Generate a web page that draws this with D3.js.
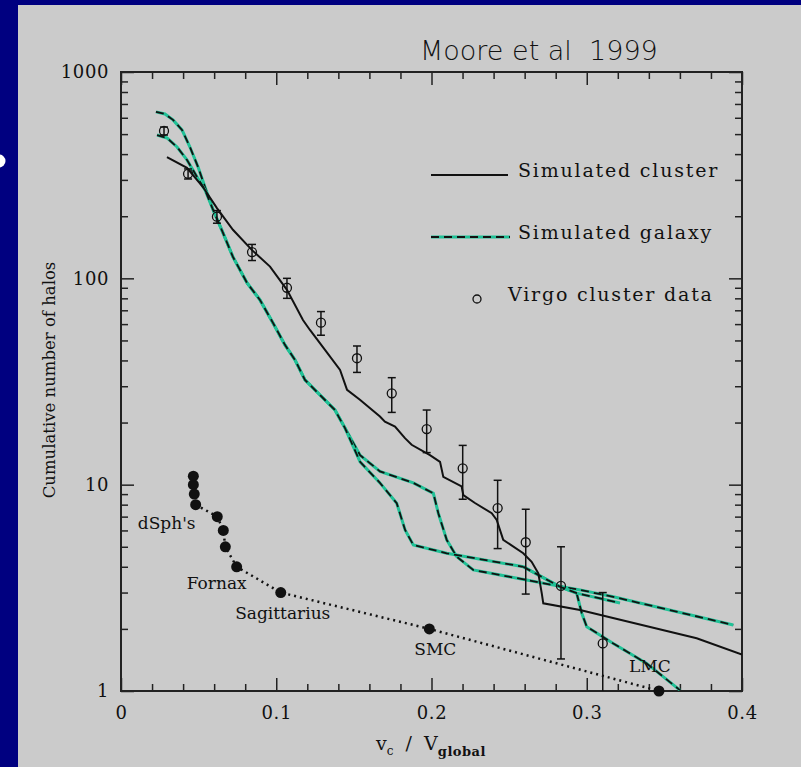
<!DOCTYPE html>
<html>
<head>
<meta charset="utf-8">
<script src="https://cdn.jsdelivr.net/npm/d3@7"></script>
<style>
body { margin: 0; background: #000080; }
svg { display: block; }
</style>
</head>
<body>
<svg></svg>
<script>
// values (v_c/V_global , cumulative N)
let clusterX = [0.0296,0.0425,0.0528,0.0618,0.0721,0.0844,0.096,0.1069,0.1172,0.1217,0.1314,0.1411,0.1456,0.1539,0.1668,0.170,0.1765,0.1829,0.1872,0.199,0.2055,0.2076,0.2194,0.2205,0.228,0.2388,0.242,0.2462,0.2591,0.2645,0.2688,0.271,0.272,0.2957,0.3169,0.3708,0.4];
let clusterN = [387,343,277,219,172,137,114,88,62.8,56.2,45,36,28.8,25.8,21.4,20.2,19.1,16.8,15.6,13.9,12.9,10.9,9.8,8.9,8.15,7.27,6.74,5.4,4.65,4.23,3.72,2.98,2.66,2.47,2.26,1.80,1.50];

let galaxyAX = [0.0225,0.0283,0.0335,0.0393,0.0444,0.0496,0.0541,0.0593,0.0657,0.0721,0.0812,0.0895,0.0979,0.1056,0.1121,0.1185,0.1282,0.1378,0.1443,0.154,0.1668,0.1883,0.2012,0.2044,0.2098,0.2162,0.2269,0.2613,0.2785,0.2957,0.3171,0.3944];
let galaxyAN = [641,626,586,524,433,347,277,215,166,127,95,78.6,60.8,47.6,40.2,32.2,27.2,23,18.8,13.9,11.6,10.2,9.08,7.27,5.4,4.48,3.86,3.45,3.26,3.09,2.86,2.09];

let galaxyBX = [0.0232,0.0296,0.0361,0.0425,0.049,0.0541,0.0593,0.0657,0.0721,0.0812,0.0895,0.0979,0.1056,0.1121,0.1185,0.1282,0.1378,0.1443,0.154,0.1668,0.1776,0.183,0.1883,0.2098,0.2591,0.2828,0.2935,0.2968,0.30,0.3171,0.3386,0.36];
let galaxyBN = [495,479,433,375,310,268,215,166,127,95,78.6,60.8,47.6,40.2,32.2,27.2,23,18.8,12.9,10.2,8.13,6.03,5.1,4.65,4.0,3.2,2.98,2.38,2.05,1.70,1.36,1.01];

let galaxyCX = [0.2591,0.2828,0.2935,0.3214];
let galaxyCN = [4.0,3.2,2.98,2.67];

let virgoX  = [0.0277,0.0432,0.0618,0.0844,0.1069,0.1288,0.152,0.1744,0.1969,0.2201,0.2426,0.2607,0.2834,0.3103];
let virgoN  = [518,321,199,134,90,61,41,27.7,18.6,12,7.7,5.26,3.23,1.70];
let virgoLo = [495,303,185,122,80,53,35,22.4,14.3,8.5,4.9,2.95,1.43,0.4];
let virgoHi = [541,339,213,146,100,69,47,33,23,15.5,10.5,7.6,5.0,3.0];

let satX = [0.0466,0.0466,0.0472,0.0481,0.062,0.0659,0.0672,0.0745,0.1029,0.1986,0.3465];
let satN = [11,10,9,8,7,6,5,4,3,2,1];
let satNames = ["dSph's","Fornax","Sagittarius","SMC","LMC"];
let satNameIdx = [3,7,8,9,10];

let xMajor = [0,0.1,0.2,0.3,0.4];
let yMajor = [1,10,100,1000];

var W = 801, H = 767;
var pLeft = 121, pRight = 742, pTop = 72, pBottom = 691;
var serif = "'DejaVu Serif', serif";

var svg = d3.select("svg").attr("width", W).attr("height", H);

// slide background + scanned panel
svg.append("rect").attr("width", W).attr("height", H).attr("fill", "#000080");
svg.append("rect").attr("x", 18).attr("y", 5).attr("width", W - 18).attr("height", H - 5).attr("fill", "#cbcbcb");
svg.append("circle").attr("cx", -1).attr("cy", 161).attr("r", 6.5).attr("fill", "#fff");

var x = d3.scaleLinear().domain([0, 0.4]).range([pLeft, pRight]);
var y = d3.scaleLog().domain([1, 1000]).range([pBottom, pTop]);

svg.append("clipPath").attr("id", "plot")
  .append("rect").attr("x", pLeft).attr("y", pTop).attr("width", pRight - pLeft).attr("height", pBottom - pTop);

// axes, ticks pointing inward
var xMinor = d3.range(0, 0.4001, 0.02).filter(function(d) { return Math.abs(d * 10 - Math.round(d * 10)) > 1e-6; });
var yMinor = [];
[1, 10, 100].forEach(function(dec) { for (var k = 2; k <= 9; k++) yMinor.push(k * dec); });

var fmtX = function(d) { return d === 0 ? "0" : d3.format(".1f")(d); };

function styleAxis(g) {
  g.select(".domain").remove();
  g.selectAll("line").attr("stroke", "#222").attr("stroke-width", 1.5);
  g.selectAll("text").attr("font-family", serif).attr("font-size", 18).attr("fill", "#111").attr("letter-spacing", 0.6);
}

svg.append("g").attr("transform", "translate(0," + pBottom + ")")
  .call(d3.axisBottom(x).tickValues(xMajor).tickSize(-13).tickPadding(15).tickFormat(fmtX)).call(styleAxis);
svg.append("g").attr("transform", "translate(0," + pBottom + ")")
  .call(d3.axisBottom(x).tickValues(xMinor).tickSize(-7).tickFormat("")).call(styleAxis);
svg.append("g").attr("transform", "translate(0," + pTop + ")")
  .call(d3.axisTop(x).tickValues(xMajor).tickSize(-13).tickFormat("")).call(styleAxis);
svg.append("g").attr("transform", "translate(0," + pTop + ")")
  .call(d3.axisTop(x).tickValues(xMinor).tickSize(-7).tickFormat("")).call(styleAxis);

svg.append("g").attr("transform", "translate(" + pLeft + ",0)")
  .call(d3.axisLeft(y).tickValues(yMajor).tickSize(-13).tickPadding(12).tickFormat(d3.format("d"))).call(styleAxis);
svg.append("g").attr("transform", "translate(" + pLeft + ",0)")
  .call(d3.axisLeft(y).tickValues(yMinor).tickSize(-7).tickFormat("")).call(styleAxis);
svg.append("g").attr("transform", "translate(" + pRight + ",0)")
  .call(d3.axisRight(y).tickValues(yMajor).tickSize(-13).tickFormat("")).call(styleAxis);
svg.append("g").attr("transform", "translate(" + pRight + ",0)")
  .call(d3.axisRight(y).tickValues(yMinor).tickSize(-7).tickFormat("")).call(styleAxis);

svg.append("rect").attr("x", pLeft).attr("y", pTop).attr("width", pRight - pLeft).attr("height", pBottom - pTop)
  .attr("fill", "none").attr("stroke", "#222").attr("stroke-width", 2);

// curves
var line = d3.line().x(function(d) { return x(d[0]); }).y(function(d) { return y(d[1]); });
var zip = function(a, b) { return a.map(function(v, i) { return [v, b[i]]; }); };

var curves = svg.append("g").attr("clip-path", "url(#plot)");

[zip(galaxyAX, galaxyAN), zip(galaxyBX, galaxyBN), zip(galaxyCX, galaxyCN)].forEach(function(pts) {
  curves.append("path").attr("d", line(pts)).attr("fill", "none")
    .attr("stroke", "#1fc196").attr("stroke-width", 3);
  curves.append("path").attr("d", line(pts)).attr("fill", "none")
    .attr("stroke", "#111").attr("stroke-width", 1.8).attr("stroke-dasharray", "8,5");
});

curves.append("path").attr("d", line(zip(clusterX, clusterN))).attr("fill", "none")
  .attr("stroke", "#111").attr("stroke-width", 2);

// Virgo data with error bars
var virgo = virgoX.map(function(v, i) { return { x: v, n: virgoN[i], lo: virgoLo[i], hi: virgoHi[i] }; });
var eb = curves.selectAll(".eb").data(virgo).enter().append("g");
eb.append("line").attr("x1", function(d) { return x(d.x); }).attr("x2", function(d) { return x(d.x); })
  .attr("y1", function(d) { return y(d.lo); }).attr("y2", function(d) { return y(d.hi); })
  .attr("stroke", "#111").attr("stroke-width", 1.5);
["lo", "hi"].forEach(function(k) {
  eb.append("line").attr("x1", function(d) { return x(d.x) - 4; }).attr("x2", function(d) { return x(d.x) + 4; })
    .attr("y1", function(d) { return y(d[k]); }).attr("y2", function(d) { return y(d[k]); })
    .attr("stroke", "#111").attr("stroke-width", 1.5);
});
svg.selectAll(".virgo").data(virgo).enter().append("circle")
  .attr("cx", function(d) { return x(d.x); }).attr("cy", function(d) { return y(d.n); })
  .attr("r", 4.5).attr("fill", "none").attr("stroke", "#111").attr("stroke-width", 1.3);

// Milky Way satellites
var sat = zip(satX, satN);
svg.append("path").attr("d", line(sat.slice(3))).attr("fill", "none")
  .attr("stroke", "#111").attr("stroke-width", 2.5).attr("stroke-dasharray", "2,4");
svg.selectAll(".sat").data(sat).enter().append("circle")
  .attr("cx", function(d) { return x(d[0]); }).attr("cy", function(d) { return y(d[1]); })
  .attr("r", 5.5).attr("fill", "#111");

var labelOff = [[-29, 18], [-20, 16], [2, 20], [6, 20], [-9, -25]];
satNames.forEach(function(name, i) {
  var p = sat[satNameIdx[i]];
  svg.append("text").attr("x", x(p[0]) + labelOff[i][0]).attr("y", y(p[1]) + labelOff[i][1])
    .attr("dy", "0.35em").attr("text-anchor", "middle")
    .attr("font-family", serif).attr("font-size", 17).attr("fill", "#111").text(name);
});

// legend
var leg = svg.append("g").attr("font-family", serif).attr("font-size", 19).attr("fill", "#111").attr("letter-spacing", 1.8);
leg.append("line").attr("x1", 431).attr("x2", 508).attr("y1", 175).attr("y2", 175).attr("stroke", "#111").attr("stroke-width", 2);
leg.append("text").attr("x", 518).attr("y", 170).attr("dy", "0.35em").text("Simulated cluster");
leg.append("line").attr("x1", 431).attr("x2", 510).attr("y1", 237).attr("y2", 237).attr("stroke", "#1fc196").attr("stroke-width", 3);
leg.append("line").attr("x1", 431).attr("x2", 510).attr("y1", 237).attr("y2", 237).attr("stroke", "#111").attr("stroke-width", 1.8).attr("stroke-dasharray", "8,5");
leg.append("text").attr("x", 518).attr("y", 232).attr("dy", "0.35em").text("Simulated galaxy");
leg.append("circle").attr("cx", 477).attr("cy", 299).attr("r", 4).attr("fill", "none").attr("stroke", "#111").attr("stroke-width", 1.3);
leg.append("text").attr("x", 508).attr("y", 294).attr("dy", "0.35em").text("Virgo cluster data");

// axis titles
svg.append("text").attr("transform", "translate(55,380) rotate(-90)").attr("text-anchor", "middle")
  .attr("font-family", serif).attr("font-size", 16.5).attr("fill", "#111").text("Cumulative number of halos");

var xt = svg.append("text").attr("x", 431).attr("y", 750).attr("text-anchor", "middle")
  .attr("font-family", serif).attr("font-size", 19).attr("fill", "#111").attr("xml:space", "preserve");
xt.append("tspan").text("v");
xt.append("tspan").attr("dy", 5).attr("font-size", 12).text("c");
xt.append("tspan").attr("dy", -5).text("  /  V");
xt.append("tspan").attr("dy", 6).attr("font-size", 13).attr("font-weight", "bold").attr("letter-spacing", 0.5).text("global");

// handwritten note
svg.append("text").attr("x", 420).attr("y", 60)
  .attr("font-family", "'DejaVu Sans', sans-serif").attr("font-weight", 200).attr("font-size", 27).attr("fill", "#111")
  .attr("xml:space", "preserve").text("Moore et al  1999");
</script>
</body>
</html>
